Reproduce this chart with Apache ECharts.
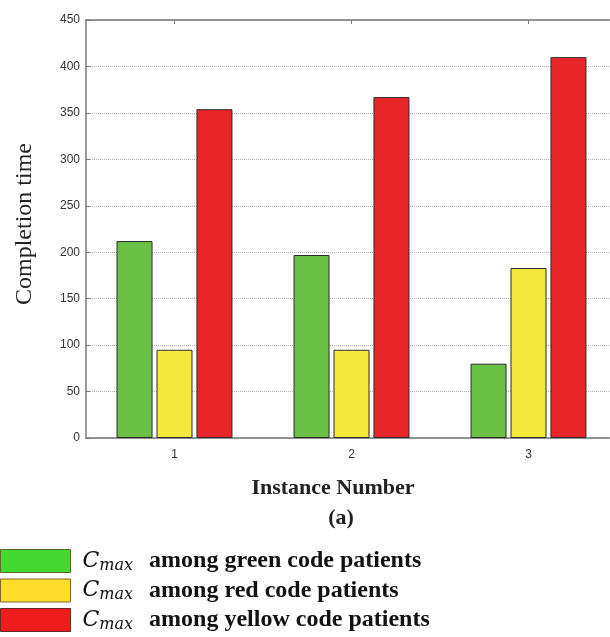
<!DOCTYPE html>
<html>
<head>
<meta charset="utf-8">
<script src="https://cdn.jsdelivr.net/npm/echarts@6/dist/echarts.min.js"></script>
<style>
  html, body { margin: 0; padding: 0; background: #fff; }
  #chart { width: 610px; height: 637px; }
</style>
</head>
<body>
<div id="chart"></div>
<script>
// Instance numbers on the x axis
const categories = ['1', '2', '3'];
// Cmax values per instance, one list per patient group
const greenCode = [212, 197, 80];
const redCode = [95, 95, 183];
const yellowCode = [354, 367, 410];
// Y axis range and step
const yMin = 0, yMax = 450, yStep = 50;

const seriesNames = [
  'among green code patients',
  'among red code patients',
  'among yellow code patients'
];

const chart = echarts.init(document.getElementById('chart'));

const barBorder = { borderColor: '#2b2b2b', borderWidth: 1 };
const axisGray = '#777';

chart.setOption({
  animation: false,
  backgroundColor: '#ffffff',
  grid: { left: 86, top: 20, width: 531, height: 418, outerBoundsMode: 'none' },
  xAxis: [
    {
      type: 'category',
      data: categories,
      position: 'bottom',
      axisLine: { show: true, lineStyle: { color: axisGray, width: 1.5 } },
      axisTick: { show: true, inside: true, alignWithLabel: true, length: 4, lineStyle: { color: axisGray } },
      axisLabel: { color: '#333', fontFamily: 'Liberation Sans', fontSize: 12, margin: 11 },
      splitLine: { show: false }
    },
    {
      type: 'category',
      data: categories,
      position: 'top',
      axisLine: { show: true, lineStyle: { color: axisGray, width: 1.5 } },
      axisTick: { show: true, inside: true, alignWithLabel: true, length: 4, lineStyle: { color: axisGray } },
      axisLabel: { show: false },
      splitLine: { show: false }
    }
  ],
  yAxis: {
    type: 'value',
    min: yMin,
    max: yMax,
    interval: yStep,
    axisLine: { show: true, lineStyle: { color: axisGray, width: 1.5 } },
    axisTick: { show: true, inside: true, length: 4, lineStyle: { color: axisGray } },
    axisLabel: { color: '#333', fontFamily: 'Liberation Sans', fontSize: 12, margin: 6 },
    splitLine: { show: true, lineStyle: { type: 'dotted', color: '#b0b0b0', width: 1 } }
  },
  legend: {
    orient: 'vertical',
    left: 0,
    top: 549,
    itemWidth: 70,
    itemHeight: 23,
    itemGap: 5,
    icon: 'rect',
    padding: 0,
    selectedMode: false,
    data: [
      { name: seriesNames[0], itemStyle: { color: '#45d830', borderColor: '#5a6a2a', borderWidth: 1 } },
      { name: seriesNames[1], itemStyle: { color: '#fddc2c', borderColor: '#7a6a2a', borderWidth: 1 } },
      { name: seriesNames[2], itemStyle: { color: '#ee1c1c', borderColor: '#6a2a2a', borderWidth: 1 } }
    ],
    formatter: function (name) {
      return '{c|C}{s|max}{t|' + name + '}';
    },
    textStyle: {
      rich: {
        c: { fontFamily: 'DejaVu Serif', fontStyle: 'italic', fontSize: 22, color: '#111', padding: [0, 0, 0, 7] },
        s: { fontFamily: 'DejaVu Serif', fontStyle: 'italic', fontSize: 16, color: '#111', padding: [9, 0, 0, 0] },
        t: { fontFamily: 'Liberation Serif', fontWeight: 'bold', fontSize: 24, color: '#111', padding: [0, 0, 0, 16] }
      }
    }
  },
  graphic: [
    {
      // y axis title
      type: 'text',
      x: 25,
      y: 224,
      rotation: Math.PI / 2,
      style: {
        text: 'Completion time', fontFamily: 'Liberation Serif', fontSize: 24,
        fill: '#222', align: 'center', verticalAlign: 'middle'
      }
    },
    {
      type: 'text',
      x: 333,
      y: 488,
      style: {
        text: 'Instance Number', fontFamily: 'Liberation Serif', fontWeight: 'bold', fontSize: 22,
        fill: '#222', align: 'center', verticalAlign: 'middle'
      }
    },
    {
      type: 'text',
      x: 341,
      y: 518,
      style: {
        text: '(a)', fontFamily: 'Liberation Serif', fontWeight: 'bold', fontSize: 22,
        fill: '#222', align: 'center', verticalAlign: 'middle'
      }
    }
  ],
  series: [
    {
      name: seriesNames[0],
      type: 'bar',
      xAxisIndex: 0,
      data: greenCode,
      barWidth: 36,
      barGap: '11%',
      itemStyle: Object.assign({ color: '#6abf45' }, barBorder)
    },
    {
      name: seriesNames[1],
      type: 'bar',
      xAxisIndex: 0,
      data: redCode,
      barWidth: 36,
      barGap: '11%',
      itemStyle: Object.assign({ color: '#f5e83c' }, barBorder)
    },
    {
      name: seriesNames[2],
      type: 'bar',
      xAxisIndex: 0,
      data: yellowCode,
      barWidth: 36,
      barGap: '11%',
      itemStyle: Object.assign({ color: '#e8262a' }, barBorder)
    }
  ]
});
</script>
</body>
</html>
